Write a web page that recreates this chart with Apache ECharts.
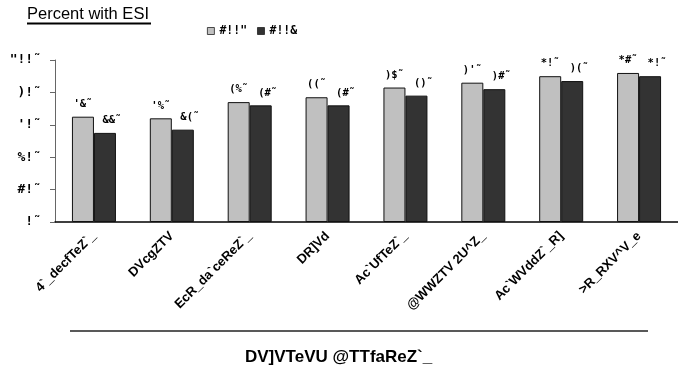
<!DOCTYPE html>
<html>
<head>
<meta charset="utf-8">
<style>
  html, body { margin: 0; padding: 0; background: #ffffff; }
  #chart { width: 678px; height: 372px; }
</style>
<script src="https://cdn.jsdelivr.net/npm/echarts@6/dist/echarts.min.js"></script>
</head>
<body>
<div id="chart"></div>
<script>
// Occupation labels, as set in the chart's symbol font
const categories = [
  '4`_decfTeZ`_',
  'DVcgZTV',
  'EcR_da`ceReZ`_',
  'DR]Vd',
  'Ac`UfTeZ`_',
  '@WWZTV 2U^Z_',
  'Ac`WVddZ`_R]',
  '>R_RXV^V_e'
];
const seriesYears = [2001, 2005];
const values2001 = [65, 64, 74, 77, 83, 86, 90, 92];
const values2005 = [55, 57, 72, 72, 78, 82, 87, 90];
const yTicks = [0, 20, 40, 60, 80, 100];

const titleText = 'Percent with ESI';
const xTitleText = 'DV]VTeVU @TTfaReZ`_';

// The symbol font places digits 0-9 on the code points '!' .. '*'
function glyphDigits(n) {
  return String(n).split('').map(function (d) {
    return String.fromCharCode(d.charCodeAt(0) - 15);
  }).join('');
}
function pct(n) { return glyphDigits(n) + '\u02DC'; }

const FONT = '"Liberation Sans", Arial, sans-serif';
const MONO = '"DejaVu Sans Mono", "Liberation Mono", monospace';

const chart = echarts.init(document.getElementById('chart'), null, { renderer: 'canvas' });

const barColors = ['#c0c0c0', '#333333'];
const seriesData = [values2001, values2005];
const labelOffsets = [[0, 0], [7, 0]];

chart.setOption({
  animation: false,
  backgroundColor: '#ffffff',
  grid: { left: 55, top: 60, bottom: 150, width: 637, containLabel: false },
  legend: {
    left: 207, top: 25, padding: 0,
    itemWidth: 7, itemHeight: 7, itemGap: 10, itemTextGap: 5,
    icon: 'rect',
    data: seriesYears.map(glyphDigits),
    itemStyle: { borderColor: '#222', borderWidth: 0.8 },
    textStyle: { fontFamily: MONO, fontWeight: 'bold', fontSize: 11.5, color: '#000' }
  },
  xAxis: {
    type: 'category',
    data: categories,
    axisLine: { lineStyle: { color: '#000', width: 1.5 } },
    axisTick: { show: false },
    axisLabel: {
      rotate: 45, interval: 0, margin: 12,
      fontFamily: FONT, fontWeight: 'bold', fontSize: 13, color: '#000'
    }
  },
  yAxis: {
    type: 'value',
    min: 0, max: 100, interval: 20,
    splitLine: { show: false },
    axisLine: { show: true, lineStyle: { color: '#666', width: 1 } },
    axisTick: { show: true, length: 5, lineStyle: { color: '#666' } },
    axisLabel: {
      margin: 14,
      fontFamily: MONO, fontWeight: 'bold', fontSize: 13, color: '#000',
      formatter: function (v) { return yTicks.indexOf(v) >= 0 ? pct(v) : ''; }
    }
  },
  series: seriesYears.map(function (yr, i) {
    return {
      name: glyphDigits(yr),
      type: 'bar',
      data: seriesData[i],
      barWidth: 22,
      barGap: '0%',
      itemStyle: { color: barColors[i], borderColor: '#111', borderWidth: 1 },
      label: {
        show: true, position: 'top', distance: 7, offset: labelOffsets[i],
        fontFamily: MONO, fontWeight: 'bold', fontSize: 10.5, color: '#000',
        formatter: function (p) { return pct(p.value); }
      }
    };
  }),
  graphic: [
    {
      type: 'text', left: 27, top: 6,
      style: { text: titleText, font: '16.5px ' + FONT, fill: '#000' }
    },
    {
      type: 'line', shape: { x1: 27, y1: 23.5, x2: 151, y2: 23.5 },
      style: { stroke: '#000', lineWidth: 2 }
    },
    {
      type: 'line', shape: { x1: 70, y1: 331, x2: 648, y2: 331 },
      style: { stroke: '#222', lineWidth: 1.5 }
    },
    {
      type: 'text', left: 245, top: 349,
      style: { text: xTitleText, font: 'bold 17px ' + FONT, fill: '#000' }
    }
  ]
});
</script>
</body>
</html>
